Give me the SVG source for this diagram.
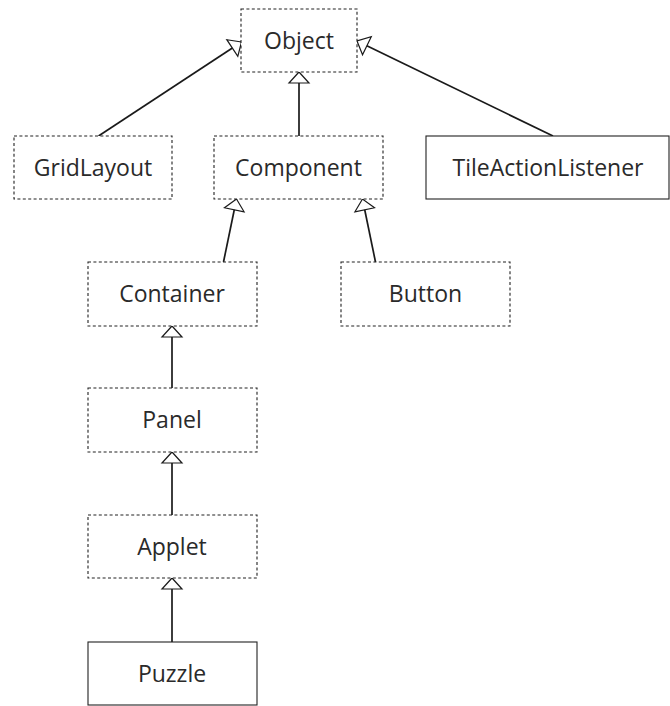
<svg xmlns="http://www.w3.org/2000/svg" width="670" height="706" viewBox="0 0 670 706">
  <style>
    .box { fill: #fff; stroke: #222; stroke-width: 1.1; }
    .lib { stroke-dasharray: 3 2.4; }
    .label { font-family: "Open Sans", "Noto Sans", sans-serif; font-size: 23px; fill: #2a2a2a; text-anchor: middle; }
    .edge { fill: none; stroke: #1a1a1a; stroke-width: 1.7; marker-end: url(#inherit); }
  </style>
  <defs>
    <!-- hollow triangle: generalisation arrowhead -->
    <marker id="inherit" markerUnits="userSpaceOnUse" viewBox="-2 -12 15 24" markerWidth="15" markerHeight="24" refX="11" refY="0" orient="auto">
      <path d="M11,0 L0,-10 L0,10 Z" fill="#fff" stroke="#1a1a1a" stroke-width="1.2" stroke-linejoin="miter"/>
    </marker>
  </defs>

  <rect width="670" height="706" fill="#fff"/>

  <g id="connectors">
    <line class="edge" x1="98.5" y1="136" x2="241.5" y2="42"/>
    <line class="edge" x1="299" y1="136" x2="299" y2="72"/>
    <line class="edge" x1="553" y1="136" x2="357" y2="41"/>
    <line class="edge" x1="223.5" y1="262" x2="236.5" y2="199"/>
    <line class="edge" x1="375.5" y1="262" x2="362.5" y2="199"/>
    <line class="edge" x1="172" y1="388" x2="172" y2="326"/>
    <line class="edge" x1="172" y1="515" x2="172" y2="452"/>
    <line class="edge" x1="172" y1="642" x2="172" y2="578"/>
  </g>

  <g id="Object">
    <rect class="box lib" x="241" y="9" width="116" height="63"/>
    <text class="label" x="299" y="49">Object</text>
  </g>
  <g id="GridLayout">
    <rect class="box lib" x="14" y="136" width="158" height="63"/>
    <text class="label" x="93" y="176">GridLayout</text>
  </g>
  <g id="Component">
    <rect class="box lib" x="214" y="136" width="169" height="63"/>
    <text class="label" x="298.5" y="176">Component</text>
  </g>
  <g id="TileActionListener">
    <rect class="box" x="426" y="136" width="243" height="63"/>
    <text class="label" x="548" y="176">TileActionListener</text>
  </g>
  <g id="Container">
    <rect class="box lib" x="88" y="262" width="169" height="64"/>
    <text class="label" x="172" y="302">Container</text>
  </g>
  <g id="Button">
    <rect class="box lib" x="341" y="262" width="169" height="64"/>
    <text class="label" x="425.5" y="302">Button</text>
  </g>
  <g id="Panel">
    <rect class="box lib" x="88" y="388" width="169" height="64"/>
    <text class="label" x="172" y="428">Panel</text>
  </g>
  <g id="Applet">
    <rect class="box lib" x="88" y="515" width="169" height="63"/>
    <text class="label" x="172" y="555">Applet</text>
  </g>
  <g id="Puzzle">
    <rect class="box" x="88" y="642" width="169" height="63"/>
    <text class="label" x="172" y="682">Puzzle</text>
  </g>
</svg>
